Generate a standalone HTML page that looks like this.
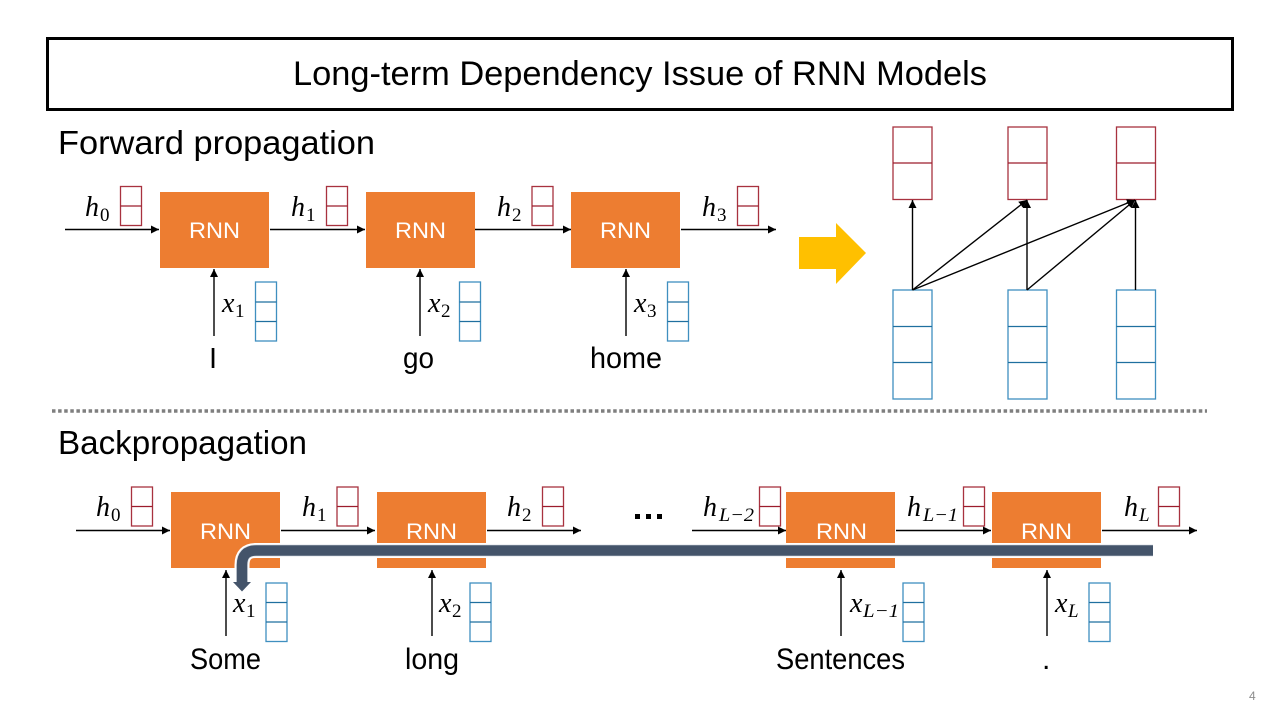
<!DOCTYPE html>
<html><head><meta charset="utf-8"><style>
html,body{margin:0;padding:0;background:#fff}
svg{display:block}
.t{font-family:"Liberation Sans",sans-serif;fill:#000}
.r{font-family:"Liberation Sans",sans-serif;fill:#fff;font-size:22px}
.m{font-family:"Liberation Serif",serif;font-style:italic;font-size:28px;fill:#000}
.s{font-family:"Liberation Serif",serif;font-style:italic;font-size:19px;fill:#000}
.n{font-family:"Liberation Serif",serif;font-size:19px;fill:#000}
.o{fill:#ed7d31}
.rb{fill:#fff;stroke:#a8323f;stroke-width:1.3}
.bb{fill:#fff;stroke:#3f8fbf;stroke-width:1.3}
.rl{stroke:#9c1c2c;stroke-width:1.3}
.bl{stroke:#1f6f9f;stroke-width:1.3}
.a{stroke:#000;stroke-width:1.4;fill:none;marker-end:url(#ah)}
</style></head><body>
<svg width="1280" height="720" viewBox="0 0 1280 720" xmlns="http://www.w3.org/2000/svg">
<defs>
<marker id="ah" markerUnits="userSpaceOnUse" markerWidth="9" markerHeight="9" refX="8" refY="4.5" orient="auto"><path d="M0,0.5 L8,4.5 L0,8.5 Z" fill="#000"/></marker>
</defs>
<rect width="1280" height="720" fill="#fff"/>
<rect x="47.5" y="38.5" width="1185" height="71" fill="#fff" stroke="#000" stroke-width="3"/>
<text class="t" x="293" y="85" font-size="34" textLength="694" lengthAdjust="spacingAndGlyphs">Long-term Dependency Issue of RNN Models</text>
<text class="t" x="58" y="154" font-size="33" textLength="317" lengthAdjust="spacingAndGlyphs">Forward propagation</text>
<text class="t" x="58" y="454" font-size="33" textLength="249" lengthAdjust="spacingAndGlyphs">Backpropagation</text>

<!-- top row -->
<rect class="o" x="160" y="192" width="109" height="76"/>
<rect class="o" x="366" y="192" width="109" height="76"/>
<rect class="o" x="571" y="192" width="109" height="76"/>
<text class="r" x="189" y="238" textLength="51" lengthAdjust="spacingAndGlyphs">RNN</text>
<text class="r" x="395" y="238" textLength="51" lengthAdjust="spacingAndGlyphs">RNN</text>
<text class="r" x="600" y="238" textLength="51" lengthAdjust="spacingAndGlyphs">RNN</text>

<rect class="rb" x="120.5" y="186.5" width="21" height="39"/><line class="rl" x1="120.5" x2="141.5" y1="206" y2="206"/>
<rect class="rb" x="326.5" y="186.5" width="21" height="39"/><line class="rl" x1="326.5" x2="347.5" y1="206" y2="206"/>
<rect class="rb" x="532" y="186.5" width="21" height="39"/><line class="rl" x1="532" x2="553" y1="206" y2="206"/>
<rect class="rb" x="737.5" y="186.5" width="21" height="39"/><line class="rl" x1="737.5" x2="758.5" y1="206" y2="206"/>

<line class="a" x1="65" y1="229.5" x2="159" y2="229.5"/>
<line class="a" x1="270" y1="229.5" x2="365" y2="229.5"/>
<line class="a" x1="475" y1="229.5" x2="571" y2="229.5"/>
<line class="a" x1="681" y1="229.5" x2="776" y2="229.5"/>
<line class="a" x1="214" y1="336" x2="214" y2="269"/>
<line class="a" x1="420" y1="336" x2="420" y2="269"/>
<line class="a" x1="626" y1="336" x2="626" y2="269"/>

<rect class="bb" x="255.5" y="282" width="21" height="59"/><line class="bl" x1="255.5" x2="276.5" y1="302" y2="302"/><line class="bl" x1="255.5" x2="276.5" y1="321.5" y2="321.5"/>
<rect class="bb" x="459.5" y="282" width="21" height="59"/><line class="bl" x1="459.5" x2="480.5" y1="302" y2="302"/><line class="bl" x1="459.5" x2="480.5" y1="321.5" y2="321.5"/>
<rect class="bb" x="667.5" y="282" width="21" height="59"/><line class="bl" x1="667.5" x2="688.5" y1="302" y2="302"/><line class="bl" x1="667.5" x2="688.5" y1="321.5" y2="321.5"/>

<text class="m" x="85" y="216">h</text><text class="n" x="100" y="221">0</text>
<text class="m" x="291" y="216">h</text><text class="n" x="306" y="221">1</text>
<text class="m" x="497" y="216">h</text><text class="n" x="512" y="221">2</text>
<text class="m" x="702" y="216">h</text><text class="n" x="717" y="221">3</text>
<text class="m" x="222" y="312">x</text><text class="n" x="235" y="317">1</text>
<text class="m" x="428" y="312">x</text><text class="n" x="441" y="317">2</text>
<text class="m" x="634" y="312">x</text><text class="n" x="647" y="317">3</text>

<text class="t" x="209" y="368" font-size="29">I</text>
<text class="t" x="403" y="368" font-size="30" textLength="31" lengthAdjust="spacingAndGlyphs">go</text>
<text class="t" x="590" y="368" font-size="30" textLength="72" lengthAdjust="spacingAndGlyphs">home</text>

<!-- yellow arrow -->
<polygon points="799,237 836,237 836,223 866,253 836,284 836,269 799,269" fill="#ffc000"/>

<!-- right diagram -->
<g>
<rect class="rb" x="893" y="127" width="39" height="72.5"/><line class="rl" x1="893" x2="932" y1="163" y2="163"/>
<rect class="rb" x="1008" y="127" width="39" height="72.5"/><line class="rl" x1="1008" x2="1047" y1="163" y2="163"/>
<rect class="rb" x="1116.5" y="127" width="39" height="72.5"/><line class="rl" x1="1116.5" x2="1155.5" y1="163" y2="163"/>
<rect class="bb" x="893" y="290" width="39" height="109"/><line class="bl" x1="893" x2="932" y1="326.5" y2="326.5"/><line class="bl" x1="893" x2="932" y1="362.5" y2="362.5"/>
<rect class="bb" x="1008" y="290" width="39" height="109"/><line class="bl" x1="1008" x2="1047" y1="326.5" y2="326.5"/><line class="bl" x1="1008" x2="1047" y1="362.5" y2="362.5"/>
<rect class="bb" x="1116.5" y="290" width="39" height="109"/><line class="bl" x1="1116.5" x2="1155.5" y1="326.5" y2="326.5"/><line class="bl" x1="1116.5" x2="1155.5" y1="362.5" y2="362.5"/>
<line class="a" x1="912.5" y1="290" x2="912.5" y2="200"/>
<line class="a" x1="912.5" y1="290" x2="1027" y2="200"/>
<line class="a" x1="912.5" y1="290" x2="1135" y2="200"/>
<line class="a" x1="1027" y1="290" x2="1027" y2="200"/>
<line class="a" x1="1027" y1="290" x2="1135" y2="200"/>
<line class="a" x1="1135.5" y1="290" x2="1135.5" y2="200"/>
</g>

<!-- divider -->
<line x1="52" y1="411" x2="1207" y2="411" stroke="#7f7f7f" stroke-width="3.5" stroke-dasharray="3.5 2.6"/>

<!-- bottom row -->
<rect class="o" x="171" y="492" width="109" height="76"/>
<rect class="o" x="377" y="492" width="109" height="76"/>
<rect class="o" x="786" y="492" width="109" height="76"/>
<rect class="o" x="992" y="492" width="109" height="76"/>
<text class="r" x="200" y="539" textLength="51" lengthAdjust="spacingAndGlyphs">RNN</text>
<text class="r" x="406" y="539" textLength="51" lengthAdjust="spacingAndGlyphs">RNN</text>
<text class="r" x="816" y="539" textLength="51" lengthAdjust="spacingAndGlyphs">RNN</text>
<text class="r" x="1021" y="539" textLength="51" lengthAdjust="spacingAndGlyphs">RNN</text>

<rect class="rb" x="131.5" y="487" width="21" height="39"/><line class="rl" x1="131.5" x2="152.5" y1="506.5" y2="506.5"/>
<rect class="rb" x="337" y="487" width="21" height="39"/><line class="rl" x1="337" x2="358" y1="506.5" y2="506.5"/>
<rect class="rb" x="542.5" y="487" width="21" height="39"/><line class="rl" x1="542.5" x2="563.5" y1="506.5" y2="506.5"/>
<rect class="rb" x="759.5" y="487" width="21" height="39"/><line class="rl" x1="759.5" x2="780.5" y1="506.5" y2="506.5"/>
<rect class="rb" x="963.5" y="487" width="21" height="39"/><line class="rl" x1="963.5" x2="984.5" y1="506.5" y2="506.5"/>
<rect class="rb" x="1158.5" y="487" width="21" height="39"/><line class="rl" x1="1158.5" x2="1179.5" y1="506.5" y2="506.5"/>

<line class="a" x1="76" y1="530.5" x2="170" y2="530.5"/>
<line class="a" x1="281" y1="530.5" x2="375" y2="530.5"/>
<line class="a" x1="487" y1="530.5" x2="581" y2="530.5"/>
<line class="a" x1="692" y1="530.5" x2="786" y2="530.5"/>
<line class="a" x1="896" y1="530.5" x2="991" y2="530.5"/>
<line class="a" x1="1102" y1="530.5" x2="1197" y2="530.5"/>
<line class="a" x1="226" y1="636" x2="226" y2="570"/>
<line class="a" x1="432" y1="636" x2="432" y2="570"/>
<line class="a" x1="841" y1="636" x2="841" y2="570"/>
<line class="a" x1="1047" y1="636" x2="1047" y2="570"/>

<!-- backprop bar -->
<path d="M1153.5,550.5 H256 Q242,550.5 242,565 V585" fill="none" stroke="#fff" stroke-width="15"/>
<path d="M1153,550.5 H256 Q242,550.5 242,565 V584" fill="none" stroke="#dfe3e8" stroke-width="12"/>
<path d="M1153,550.5 H256 Q242,550.5 242,565 V584" fill="none" stroke="#44546a" stroke-width="10.5"/>
<polygon points="233,582 251,582 242,591.5" fill="#44546a"/>

<rect class="bb" x="266" y="583" width="21" height="58.5"/><line class="bl" x1="266" x2="287" y1="602.5" y2="602.5"/><line class="bl" x1="266" x2="287" y1="622" y2="622"/>
<rect class="bb" x="470" y="583" width="21" height="58.5"/><line class="bl" x1="470" x2="491" y1="602.5" y2="602.5"/><line class="bl" x1="470" x2="491" y1="622" y2="622"/>
<rect class="bb" x="903" y="583" width="21" height="58.5"/><line class="bl" x1="903" x2="924" y1="602.5" y2="602.5"/><line class="bl" x1="903" x2="924" y1="622" y2="622"/>
<rect class="bb" x="1089" y="583" width="21" height="58.5"/><line class="bl" x1="1089" x2="1110" y1="602.5" y2="602.5"/><line class="bl" x1="1089" x2="1110" y1="622" y2="622"/>

<text class="m" x="96" y="516">h</text><text class="n" x="111" y="521">0</text>
<text class="m" x="302" y="516">h</text><text class="n" x="317" y="521">1</text>
<text class="m" x="507" y="516">h</text><text class="n" x="522" y="521">2</text>
<text class="m" x="703" y="516">h</text><text class="s" x="719" y="521" textLength="35" lengthAdjust="spacingAndGlyphs">L−2</text>
<text class="m" x="907" y="516">h</text><text class="s" x="923" y="521" textLength="35" lengthAdjust="spacingAndGlyphs">L−1</text>
<text class="m" x="1124" y="516">h</text><text class="s" x="1139" y="521">L</text>
<text class="m" x="233" y="612">x</text><text class="n" x="246" y="617">1</text>
<text class="m" x="439" y="612">x</text><text class="n" x="452" y="617">2</text>
<text class="m" x="850" y="612">x</text><text class="s" x="863" y="617" textLength="36" lengthAdjust="spacingAndGlyphs">L−1</text>
<text class="m" x="1055" y="612">x</text><text class="s" x="1068" y="617">L</text>

<g fill="#000"><rect x="635" y="514" width="5" height="5"/><rect x="646" y="514" width="5" height="5"/><rect x="657" y="514" width="5" height="5"/></g>

<text class="t" x="190" y="669" font-size="30" textLength="71" lengthAdjust="spacingAndGlyphs">Some</text>
<text class="t" x="405" y="669" font-size="30" textLength="54" lengthAdjust="spacingAndGlyphs">long</text>
<text class="t" x="776" y="669" font-size="30" textLength="129" lengthAdjust="spacingAndGlyphs">Sentences</text>
<text class="t" x="1042" y="669" font-size="30">.</text>
<text x="1249" y="700" font-family="Liberation Sans, sans-serif" font-size="12" fill="#8c8c8c">4</text>
</svg>
</body></html>
